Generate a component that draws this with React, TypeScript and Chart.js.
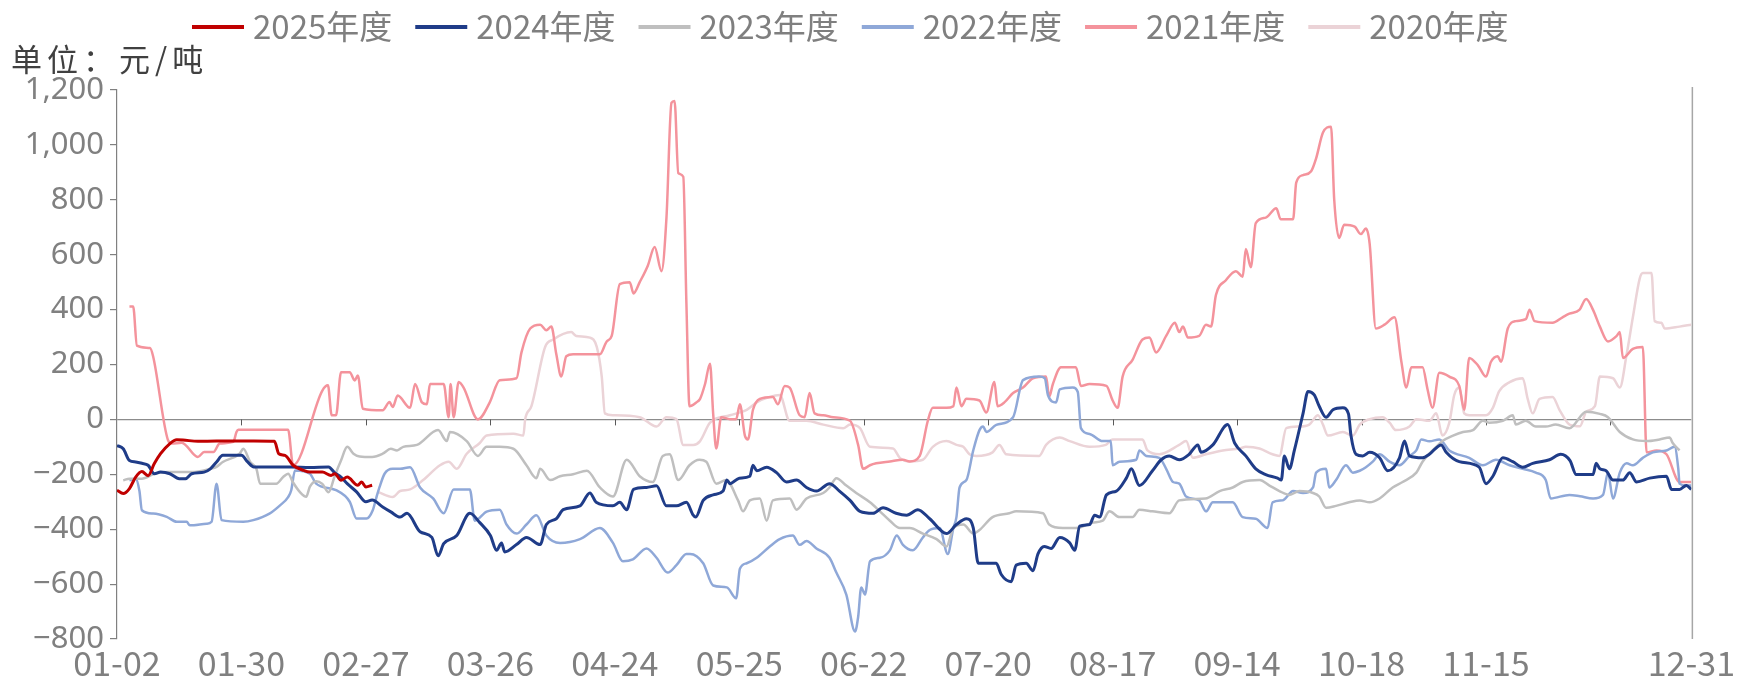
import React, { useEffect, useRef } from 'react';
import { Chart, registerables } from 'chart.js';

Chart.register(...registerables);

// x positions are trading-day indices (0 = 01-02, 253 = 12-31)
const tickIndex = [0, 20, 40, 60, 80, 100, 120, 140, 160, 180, 200, 220, 253];
const tickLabels = ['01-02', '01-30', '02-27', '03-26', '04-24', '05-25', '06-22', '07-20', '08-17', '09-14', '10-18', '11-15', '12-31'];
const zeroLineTickIndex = [20, 40, 60, 80, 100, 120, 140, 160, 180, 200, 220, 240];
const lastIndex = 253;

const unitText = '单位：元/吨';
const seriesNames = ['2025年度', '2024年度', '2023年度', '2022年度', '2021年度', '2020年度'];

const s2025: [number, number][] = [
  [0, -258], [1, -270], [2, -252], [3, -210], [4, -190], [5, -205], [6, -161], [7, -125], [8.5, -88], [9.6, -74],
  [10.6, -75], [13, -80], [16, -79], [19, -79], [22, -79], [25.3, -80], [26, -125], [27, -131], [28.3, -167], [30, -186],
  [31, -192], [33, -192], [34.4, -204], [35, -198], [36, -222], [37, -210], [38.7, -240], [39.3, -228], [40, -246], [41, -240],
];

const s2024: [number, number][] = [
  [0, -95], [1, -107], [2, -150], [3, -155], [4, -160], [5, -167], [6, -198], [7, -192], [8.5, -198], [10, -216],
  [11, -216], [12, -198], [14, -192], [15, -180], [16, -155], [17, -131], [19, -131], [20, -131], [21, -155], [22, -173],
  [25, -173], [28, -173], [31, -175], [34, -173], [35, -195], [36, -210], [37, -234], [38.5, -264], [40, -300], [41, -294],
  [42.7, -319], [44, -337], [45.5, -356], [46.6, -342], [48.7, -409], [50.6, -430], [51.6, -497], [52.5, -453], [54.6, -423], [56.7, -342],
  [58.3, -376], [60, -423], [61, -477], [61.8, -450], [62.3, -483], [64.2, -456], [65.8, -430], [68, -456], [69, -383], [70.6, -362],
  [71.7, -329], [74.4, -315], [76, -268], [77, -302], [79.7, -315], [80.8, -302], [81.9, -329], [83, -255], [85.1, -248], [86.7, -242],
  [88.3, -315], [89.9, -315], [91.5, -302], [92.6, -349], [93, -356], [94.2, -295], [95.8, -275], [97.4, -261], [98, -221], [98.5, -234],
  [100, -214], [101.7, -207], [102.2, -167], [102.8, -187], [104.4, -174], [106, -194], [107.6, -228], [109.2, -221], [110.8, -248], [112.4, -261],
  [114.5, -234], [116.1, -261], [117.8, -295], [119.4, -335], [121.5, -342], [123.1, -322], [125.2, -342], [126.9, -349], [128.7, -329], [130.6, -362],
  [133.3, -416], [134.9, -383], [136.5, -362], [137.6, -395], [138.4, -524], [141.3, -524], [142.1, -565], [143.7, -591], [144.5, -531], [146.1, -524],
  [147.2, -551], [148, -490], [149, -463], [150.1, -470], [151.5, -430], [153.1, -450], [153.9, -477], [154.7, -389], [156.3, -383], [157.1, -349],
  [157.9, -356], [159, -275], [160.6, -261], [162.2, -214], [163, -180], [164.3, -241], [166.4, -187], [167.8, -147], [169.1, -133], [170.7, -147],
  [172.3, -127], [173.7, -93], [174.2, -120], [176.1, -93], [178.5, -19], [179.6, -86], [181.4, -133], [183, -180], [184.6, -201], [186.5, -214],
  [187.1, -221], [187.6, -133], [188.4, -180], [189.2, -113], [190.6, 22], [191.4, 102], [192.4, 89], [193.2, 48], [194.3, 8], [195.4, 35],
  [197, 42], [197.9, 20], [198.3, -59], [199.1, -127], [200.2, -133], [201.3, -120], [202.9, -140], [204.2, -187], [206.1, -140], [206.9, -79],
  [207.7, -133], [209.8, -140], [210.9, -127], [212.8, -93], [213.6, -120], [215.7, -154], [218.9, -174], [220, -234], [221.1, -207], [222.7, -140],
  [224.3, -154], [225.9, -174], [227.5, -160], [230.2, -147], [232, -127], [233.5, -150], [234.5, -201], [237.2, -201], [237.7, -160], [238.3, -180],
  [239.3, -187], [240.4, -221], [242, -221], [243.1, -194], [244.2, -228], [246.3, -214], [249, -207], [249.8, -255], [251.1, -255], [252.2, -241],
  [253, -255],
];

const s2023: [number, number][] = [
  [1, -222], [2, -216], [4, -216], [6, -198], [8, -192], [12, -192], [15, -180], [16, -173], [17, -155], [19.7, -125],
  [20.3, -107], [21.4, -155], [22.4, -180], [23, -234], [25.6, -234], [26.7, -210], [27.5, -198], [28.3, -230], [29.4, -265], [30.4, -282],
  [31, -245], [32, -225], [33, -235], [34, -265], [35, -205], [36, -150], [37, -100], [38, -125], [39, -135], [41, -137],
  [42.7, -125], [44, -107], [45, -113], [46, -100], [48.2, -93], [51.6, -39], [53, -79], [53.5, -46], [56.2, -79], [58, -133],
  [59.4, -100], [61.5, -100], [63.7, -107], [65.8, -167], [67.4, -214], [68, -180], [69.6, -221], [71.2, -207], [73.3, -200], [75.5, -187],
  [77.6, -248], [79.7, -281], [81.9, -147], [84, -207], [86.1, -228], [87.7, -133], [88.8, -127], [90.2, -221], [92, -167], [93.6, -147],
  [94.7, -154], [96.3, -234], [97.9, -221], [99.8, -295], [100.6, -335], [101.7, -295], [103.3, -288], [104.4, -369], [105.4, -295], [108.1, -288],
  [109.2, -329], [110.8, -288], [113.5, -268], [114.5, -248], [115.6, -214], [117.2, -241], [118.8, -268], [121, -302], [122.6, -335], [124.2, -369],
  [125.8, -396], [127.4, -396], [129.5, -416], [131.7, -436], [133.3, -463], [134.4, -396], [136, -383], [137.6, -416], [138.6, -403], [140.7, -356],
  [143.4, -342], [144.5, -335], [148.8, -342], [149.8, -383], [152, -396], [154.1, -396], [156.8, -376], [158.4, -369], [159.5, -335], [161.1, -356],
  [163.2, -356], [164.3, -329], [166.4, -335], [169.1, -342], [170.7, -295], [174.9, -288], [177.2, -261], [179.3, -248], [180.9, -228], [183.6, -221],
  [185.2, -241], [186.8, -261], [188.4, -275], [190, -261], [192.2, -268], [193.2, -281], [194.3, -322], [195.9, -315], [198, -302], [199.7, -295],
  [201.3, -302], [202.9, -288], [205, -248], [206.6, -228], [208.8, -194], [209.8, -154], [212, -100], [213, -79], [214.7, -59], [216.3, -46],
  [217.9, -39], [219.5, -5], [220.5, -12], [222.7, -5], [224.3, 15], [224.8, -19], [226.4, -5], [228, -26], [229.6, -26], [231.2, -19],
  [233.4, -32], [236.1, 28], [238.3, 20], [239.6, 8], [241.5, -46], [243.6, -73], [245.8, -79], [247.9, -73], [249.5, -66], [250, -86],
  [251.1, -113],
];

const s2022: [number, number][] = [
  [2, -222], [3, -216], [3.6, -260], [4, -331], [5.8, -343], [8, -355], [9.6, -373], [11.2, -373], [11.7, -386], [14.4, -380],
  [15.2, -373], [16, -234], [16.8, -367], [20.3, -373], [21.9, -367], [24.5, -343], [26.2, -313], [27.5, -283], [28, -258], [28.6, -186],
  [31, -198], [32, -234], [35.2, -258], [37.4, -300], [38.5, -361], [40.1, -361], [41.1, -331], [41.7, -283], [42.2, -246], [43, -198],
  [44.3, -180], [45.5, -180], [47.1, -174], [48.7, -248], [50.8, -288], [52.5, -342], [54.1, -255], [56.7, -255], [57.5, -369], [59.4, -336],
  [61.5, -329], [62.6, -383], [64.2, -416], [65.8, -383], [67.4, -349], [69, -423], [71.2, -450], [74.4, -436], [77.6, -396], [79.7, -450],
  [81.3, -517], [82.9, -510], [85.1, -470], [86.7, -504], [88.5, -558], [89.9, -531], [91.5, -490], [92.1, -490], [94.2, -524], [95.8, -605],
  [98, -612], [99.5, -652], [100.1, -544], [101.2, -524], [102.8, -504], [104.9, -463], [106.5, -436], [108.6, -423], [109.7, -457], [110.8, -443],
  [112.4, -470], [114.5, -504], [115.6, -558], [117.2, -638], [118.6, -773], [119.1, -720], [119.6, -612], [120.2, -638], [121, -517], [122.6, -504],
  [124.2, -477], [125.3, -423], [126.3, -457], [127.9, -477], [129.5, -430], [130.6, -403], [132.2, -396], [133.5, -490], [134.4, -396], [134.9, -356],
  [135.4, -248], [136.5, -221], [137.6, -113], [138.6, -39], [139.2, -26], [139.7, -46], [141.3, -20], [144, 8], [145.6, 143], [148.2, 156],
  [149.1, 150], [149.6, 89], [150.9, 62], [151.5, 109], [153.6, 116], [154.4, 100], [154.9, -32], [156.3, -53], [158.4, -79], [159.7, -79],
  [160, -167], [161.1, -154], [163.8, -147], [164.3, -113], [165.4, -133], [167.5, -140], [168.6, -180], [169.7, -228], [170.7, -234], [171.8, -281],
  [173.9, -295], [175, -335], [176.1, -302], [179.3, -302], [180.9, -356], [183, -362], [184.9, -396], [185.7, -302], [187.3, -295], [189, -261],
  [190.6, -268], [192.2, -248], [192.7, -194], [194.3, -180], [194.8, -248], [195.9, -221], [197.5, -167], [198.6, -194], [199.7, -187], [200.7, -174],
  [201.8, -154], [202.9, -127], [204.5, -154], [206.1, -167], [207.7, -133], [208.8, -113], [209.6, -73], [210.9, -80], [212.5, -73], [214.1, -113],
  [217.3, -140], [219.5, -167], [221.6, -147], [223.8, -167], [225.9, -180], [228, -194], [229.6, -221], [230.4, -288], [233.4, -275], [235.1, -280],
  [237.2, -288], [238.8, -275], [239.6, -194], [240.4, -288], [241.5, -194], [242.6, -160], [243.6, -167], [245.2, -140], [246.8, -120], [249, -113],
  [250.3, -100], [250.9, -180], [251.1, -234], [252.2, -241], [253, -241],
];

const s2021: [number, number][] = [
  [2, 411], [2.6, 411], [3.2, 269], [5.3, 260], [5.8, 230], [8.2, -76], [8.8, -88], [10.4, -85], [13, -137], [14, -119],
  [15.5, -119], [16.5, -88], [18.7, -82], [19.2, -46], [19.5, -38], [27.5, -38], [28.3, -167], [33, 105], [33.9, 124], [34.5, 15],
  [35.2, 15], [36, 172], [37.4, 172], [38.2, 142], [38.7, 160], [39.5, 39], [42.7, 33], [43.8, 63], [44.3, 45], [45.1, 87],
  [47.1, 42], [47.9, 129], [49, 62], [49.8, 55], [50.3, 129], [52.5, 129], [53.3, 8], [53.6, 129], [54.1, 8], [54.9, 136],
  [55.7, 116], [58, 0], [59.9, 62], [61.5, 143], [64.2, 150], [65, 244], [66.4, 331], [68, 345], [69, 325], [69.8, 338],
  [70.6, 237], [71.4, 156], [72.2, 230], [73.3, 237], [77.6, 237], [78.7, 284], [79.5, 304], [80.8, 493], [82.4, 500], [83, 459],
  [84, 500], [85.3, 560], [86.4, 628], [87.5, 540], [88.3, 735], [89.1, 1153], [89.6, 1160], [90.2, 897], [91, 884], [91.5, 426],
  [92, 48], [93.1, 62], [93.7, 75], [94.5, 129], [95.3, 203], [95.8, 22], [96.3, -106], [97.1, 8], [98.5, 1], [99.5, 1],
  [100.1, 55], [100.9, -59], [101.4, -73], [102.2, 35], [103.3, 75], [105.4, 82], [106.2, 55], [107.3, 122], [108.1, 116], [109.7, 15],
  [110.5, 8], [111.3, 96], [112.1, 22], [113.5, 15], [115.1, 8], [117.8, -5], [119.1, -93], [119.9, -180], [121, -167], [122, -160],
  [124.2, -153], [126.3, -147], [127.4, -153], [129, -133], [130.3, -5], [131.1, 42], [133.3, 42], [134.4, 48], [134.9, 116], [135.7, 48],
  [136.5, 75], [138.6, 69], [139.7, 25], [141, 136], [141.5, 48], [142.6, 62], [144, 96], [145.6, 116], [147.2, 150], [149.3, 156],
  [149.8, 82], [150.4, 129], [151.7, 190], [154.1, 190], [154.9, 122], [156.3, 129], [159, 122], [160, 69], [160.8, 42], [161.6, 156],
  [163.2, 217], [164.8, 291], [165.9, 298], [167, 244], [168.6, 304], [170, 352], [170.7, 318], [171.3, 338], [172.1, 298], [173.9, 304],
  [175, 345], [175.8, 338], [176.6, 453], [178.2, 507], [179.8, 540], [180.9, 520], [181.4, 621], [182.2, 554], [183, 715], [184.6, 735],
  [186.3, 769], [187, 729], [189, 729], [189.5, 863], [190.6, 890], [191.9, 904], [192.7, 951], [193.8, 1045], [195.1, 1066], [195.6, 803],
  [196.4, 661], [197.2, 709], [198.9, 702], [199.9, 675], [200.7, 695], [201.3, 640], [202.3, 331], [203.7, 345], [205.3, 372], [206.4, 210],
  [207.2, 116], [208, 190], [209.8, 190], [210.6, 110], [211.4, 42], [212.5, 170], [214.1, 156], [215.7, 122], [216.5, 35], [217.3, 224],
  [218.7, 197], [220, 156], [220.8, 210], [221.9, 230], [222.4, 210], [223.5, 331], [224.8, 358], [226.4, 365], [227, 399], [227.8, 358],
  [230.7, 352], [232.3, 372], [233.4, 385], [235, 399], [236.1, 439], [237.2, 399], [238.3, 338], [239.6, 284], [241, 304], [241.5, 318],
  [242, 224], [243.6, 257], [245.2, 264], [245.8, -120], [247.4, -113], [249, -127], [251.1, -228], [253, -228],
];

const s2020: [number, number][] = [
  [42, -265], [44.3, -283], [45.5, -261], [47.1, -255], [49.2, -221], [51.9, -167], [53.3, -154], [54.6, -180], [56.2, -125], [58.3, -86],
  [59.4, -59], [63.7, -52], [65.3, -59], [65.6, 1], [66.6, 48], [68.8, 264], [70.1, 291], [73, 318], [73.8, 304], [76, 298],
  [77.1, 264], [77.9, 156], [78.4, 22], [79.7, 15], [84, 8], [86.7, -26], [88.3, 8], [89.9, 1], [91, -93], [92.6, -93],
  [93.7, -79], [95.3, -12], [98.5, 15], [101.2, 35], [102.8, 62], [104.9, 82], [106.5, 89], [108.1, -5], [110.8, -5], [113.5, -19],
  [116.7, -32], [117.8, -19], [119.4, -32], [121, -100], [124.7, -106], [125.8, -140], [127.4, -153], [129.5, -147], [131.1, -100], [133.3, -79],
  [134.9, -93], [136, -100], [137, -127], [138.1, -133], [140.7, -120], [141.8, -93], [142.9, -127], [148.2, -133], [149.3, -93], [151.5, -66],
  [153.1, -79], [156.3, -100], [158.9, -93], [160, -73], [164.8, -73], [165.6, -113], [167.5, -127], [170.7, -93], [171.8, -79], [172.9, -140],
  [175, -127], [177.7, -113], [180.4, -106], [181.4, -100], [183.6, -106], [185.7, -127], [186.8, -133], [187.9, -32], [190, -26], [191.6, -19],
  [193, 15], [193.8, -19], [194.6, -59], [197, -46], [198.6, -59], [199.7, -19], [201.3, 1], [203.4, 8], [204.5, -12], [205.5, -39],
  [207.7, -26], [208.8, 1], [210.9, -5], [212, 22], [213, -59], [214.1, -12], [214.9, 89], [215.7, 116], [216.5, 22], [217.3, 15],
  [220, 15], [221.1, 42], [222.1, 102], [223.8, 136], [225.9, 150], [226.7, 75], [227.5, 22], [228.6, 75], [230.7, 82], [231.8, 35],
  [233.5, -20], [235.1, -25], [236.1, 28], [237.5, 48], [238.3, 156], [240.4, 150], [241.5, 116], [242.6, 237], [243.6, 372], [244.7, 513],
  [245.2, 533], [246.6, 533], [247.1, 358], [248.2, 352], [248.7, 331], [251.1, 338], [253, 345],
];

const seriesData = [s2025, s2024, s2023, s2022, s2021, s2020];
const seriesColors = ['#C00000', '#1F3C88', '#BFBFBF', '#8FA8D8', '#F4939C', '#EBD3D7'];
const seriesWidths = [3, 3, 2.5, 2.5, 2.5, 2.5];

const fmtY = (v: number) => {
  if (v === 0) return '0';
  const s = Math.abs(v).toLocaleString('en-US');
  return v < 0 ? '\u2212' + s : s;
};

const extrasPlugin = {
  id: 'extras',
  beforeDatasetsDraw(chart: any) {
    const { ctx, chartArea, scales } = chart;
    const x = scales.x;
    const y = scales.y;
    const y0 = y.getPixelForValue(0);
    ctx.save();
    ctx.strokeStyle = '#595959';
    ctx.lineWidth = 1;
    zeroLineTickIndex.forEach((v) => {
      const px = Math.round(x.getPixelForValue(v)) + 0.5;
      ctx.beginPath();
      ctx.moveTo(px, y0);
      ctx.lineTo(px, y0 + 6);
      ctx.stroke();
    });
    ctx.strokeStyle = '#A6A6A6';
    ctx.lineWidth = 1.5;
    const rx = x.getPixelForValue(lastIndex) + 1;
    ctx.beginPath();
    ctx.moveTo(rx, chartArea.top - 3);
    ctx.lineTo(rx, chartArea.bottom);
    ctx.stroke();
    ctx.restore();
  },
  afterDraw(chart: any) {
    const { ctx } = chart;
    ctx.save();
    ctx.font = '33px "Noto Sans CJK SC"';
    ctx.textBaseline = 'middle';
    ctx.textAlign = 'left';
    let lx = 192;
    const ly = 26;
    chart.data.datasets.forEach((ds: any) => {
      ctx.strokeStyle = ds.borderColor;
      ctx.lineWidth = 4;
      ctx.lineCap = 'butt';
      ctx.beginPath();
      ctx.moveTo(lx, ly + 1);
      ctx.lineTo(lx + 52, ly + 1);
      ctx.stroke();
      ctx.fillStyle = '#7F7F7F';
      ctx.fillText(ds.label, lx + 61, ly);
      lx += 61 + ctx.measureText(ds.label).width + 23;
    });
    ctx.font = '31px "Noto Sans CJK SC"';
    try {
      (ctx as any).letterSpacing = '5px';
    } catch (e) {
      /* ignore */
    }
    ctx.fillStyle = '#404040';
    ctx.fillText(unitText, 11, 59);
    ctx.restore();
  },
};

export default function App() {
  const ref = useRef<HTMLCanvasElement | null>(null);

  useEffect(() => {
    if (!ref.current) return;
    const chart = new Chart(ref.current, {
      type: 'line',
      data: {
        datasets: seriesNames.map((name, i) => ({
          label: name,
          data: seriesData[i].map(([x, y]) => ({ x, y })),
          borderColor: seriesColors[i],
          backgroundColor: seriesColors[i],
          borderWidth: seriesWidths[i],
          pointRadius: 0,
          pointHoverRadius: 0,
          fill: false,
          cubicInterpolationMode: 'monotone' as const,
        })),
      },
      options: {
        animation: false,
        responsive: true,
        maintainAspectRatio: false,
        layout: { padding: { top: 90, right: 47, left: 0, bottom: 0 } },
        plugins: {
          legend: { display: false },
          tooltip: { enabled: false },
        },
        scales: {
          x: {
            type: 'linear',
            min: 0,
            max: lastIndex,
            afterBuildTicks: (axis: any) => {
              axis.ticks = tickIndex.map((v) => ({ value: v }));
            },
            afterFit: (s: any) => {
              s.height = 46;
            },
            ticks: {
              autoSkip: false,
              maxRotation: 0,
              minRotation: 0,
              padding: 4,
              color: '#808080',
              font: { size: 34, family: '"Noto Sans CJK SC"' },
              callback: (v: any) => {
                const k = tickIndex.indexOf(Number(v));
                return k >= 0 ? tickLabels[k] : '';
              },
            },
            grid: { display: false, drawTicks: false },
            border: { display: false },
          },
          y: {
            min: -800,
            max: 1200,
            afterFit: (s: any) => {
              s.width = 117;
            },
            ticks: {
              stepSize: 200,
              padding: 6,
              color: '#808080',
              font: { size: 31, family: '"Noto Sans"' },
              callback: (v: any) => fmtY(Number(v)),
            },
            grid: {
              color: (c: any) => (c.tick && c.tick.value === 0 ? '#8C8C8C' : 'rgba(0,0,0,0)'),
              tickColor: '#808080',
              tickLength: 7,
              lineWidth: 1.2,
            },
            border: { display: true, color: '#808080', width: 1.2 },
          },
        },
      },
      plugins: [extrasPlugin],
    });
    return () => chart.destroy();
  }, []);

  return (
    <div style={{ position: 'fixed', left: 0, top: 0, width: 1739, height: 685, background: '#fff' }}>
      <canvas ref={ref} />
    </div>
  );
}
